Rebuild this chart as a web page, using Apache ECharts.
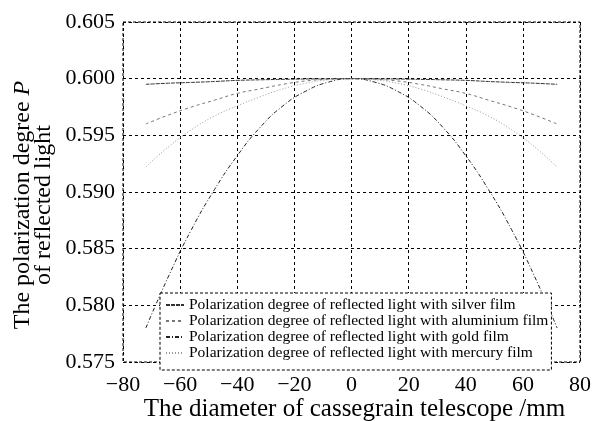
<!DOCTYPE html>
<html><head><meta charset="utf-8">
<script src="https://cdn.jsdelivr.net/npm/echarts@6/dist/echarts.min.js"></script>
<style>html,body{margin:0;padding:0;background:#fff}#c{width:593px;height:421px}</style>
</head><body><div id="c"></div>
<script>
const xs = [-72,-64,-56,-48,-40,-32,-24,-16,-8,0,8,16,24,32,40,48,56,64,72];
const silver    = [0.5995,0.5996,0.59967,0.59975,0.59985,0.5999,0.59994,0.59997,0.59999,0.6000,0.59999,0.59997,0.59994,0.5999,0.59985,0.59975,0.59967,0.5996,0.5995];
const aluminium = [0.5960,0.5968,0.5975,0.5981,0.5987,0.5991,0.5995,0.5998,0.59995,0.6000,0.59995,0.5998,0.5995,0.5991,0.5987,0.5981,0.5975,0.5968,0.5960];
const gold      = [0.5780,0.5826,0.5867,0.5902,0.5932,0.5957,0.5976,0.5989,0.5997,0.6000,0.5997,0.5989,0.5976,0.5957,0.5932,0.5902,0.5867,0.5826,0.5780];
const mercury   = [0.5922,0.5940,0.5955,0.5967,0.5976,0.5984,0.5991,0.5996,0.5999,0.6000,0.5999,0.5996,0.5991,0.5984,0.5976,0.5967,0.5955,0.5940,0.5922];
const names = [
  'Polarization degree of reflected light with silver film',
  'Polarization degree of reflected light with aluminium film',
  'Polarization degree of reflected light with gold film',
  'Polarization degree of reflected light with mercury film'
];
const xTicks = {min:-80, max:80, step:20};
const yTicks = {min:0.575, max:0.605, step:0.005};

const font = 'Liberation Serif';
const styles = [
  {color:'#333', type:[4,1]},
  {color:'#777', type:[3,3]},
  {color:'#222', type:[4,2,1,2]},
  {color:'#999', type:[1,2]}
];
const sets = [silver, aluminium, gold, mercury];
const chart = echarts.init(document.getElementById('c'));
chart.setOption({
  animation:false,
  backgroundColor:'#fff',
  grid:{left:123,right:13,top:22,bottom:59,show:true,borderColor:'#000',borderWidth:1,borderType:[3,2],outerBoundsMode:'none',containLabel:false},
  legend:{
    orient:'vertical', left:160, top:293, data:names,
    backgroundColor:'#fff', borderColor:'#000', borderWidth:1, borderType:[3,2],
    padding:[4,3,9,5], itemGap:0, itemWidth:18, itemHeight:10,
    itemStyle:{color:'transparent',borderColor:'transparent',borderWidth:0,opacity:0},
    textStyle:{fontFamily:font,fontSize:15.5,color:'#000',lineHeight:13.5}
  },
  xAxis:{
    type:'value', min:xTicks.min, max:xTicks.max, interval:xTicks.step,
    name:'The diameter of cassegrain telescope /mm', nameLocation:'middle', nameGap:35, nameMoveOverlap:false,
    nameTextStyle:{fontFamily:font,fontSize:25,color:'#000',padding:[0,0,0,6]},
    axisLine:{show:false}, axisTick:{show:false},
    axisLabel:{fontFamily:font,fontSize:22,color:'#000',margin:12,formatter:v=>String(v).replace('-','\u2212')},
    splitLine:{show:true,lineStyle:{color:'#000',type:[3,3],width:1}}
  },
  yAxis:{
    type:'value', min:yTicks.min, max:yTicks.max, interval:yTicks.step,
    name:'{a|The polarization degree }{i|P}\n{a|of reflected light}', nameLocation:'middle', nameGap:69, nameMoveOverlap:false,
    nameTextStyle:{fontFamily:font,fontSize:24,color:'#000',lineHeight:21,padding:[0,26,0,0],
      rich:{a:{fontFamily:font,fontSize:24,color:'#000',lineHeight:21},i:{fontFamily:font,fontSize:24,fontStyle:'italic',color:'#000',lineHeight:21}}},
    axisLine:{show:false}, axisTick:{show:false},
    axisLabel:{fontFamily:font,fontSize:22,color:'#000',margin:8,formatter:v=>v.toFixed(3)},
    splitLine:{show:true,lineStyle:{color:'#000',type:[3,3],width:1}}
  },
  series: sets.map((arr,i)=>({
    name:names[i], type:'line', smooth:true, symbol:'none',
    data: xs.map((x,j)=>[x,arr[j]]),
    lineStyle:{color:styles[i].color,type:styles[i].type,width:1},
    itemStyle:{color:styles[i].color}
  }))
});
</script></body></html>
